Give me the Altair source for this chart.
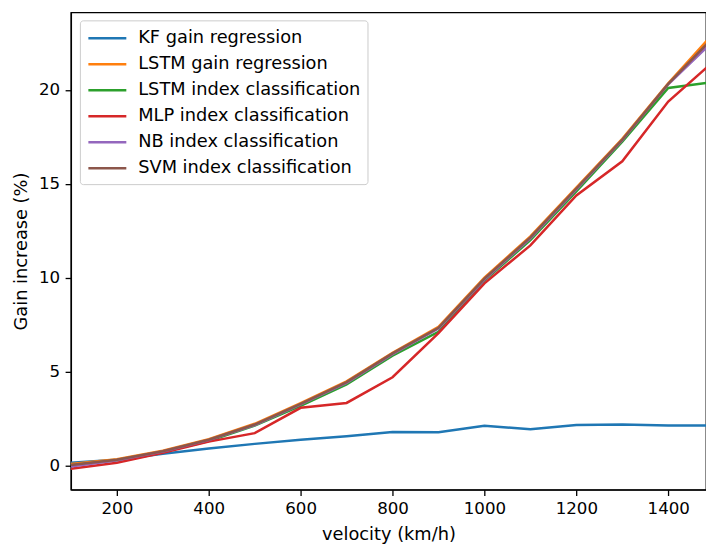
import altair as alt
import pandas as pd

velocity = [100, 200, 300, 400, 500, 600, 700, 800, 900, 1000, 1100, 1200, 1300, 1400, 1500]
kf_gain = [0.15, 0.30, 0.62, 0.90, 1.15, 1.37, 1.55, 1.78, 1.77, 2.12, 1.93, 2.15, 2.18, 2.13, 2.13]
lstm_gain = [0.08, 0.33, 0.78, 1.40, 2.22, 3.32, 4.48, 6.00, 7.38, 10.00, 12.20, 14.80, 17.40, 20.35, 23.05]
lstm_index = [0.00, 0.28, 0.72, 1.30, 2.12, 3.18, 4.32, 5.85, 7.12, 9.85, 12.00, 14.60, 17.25, 20.10, 20.43]
mlp_index = [-0.18, 0.15, 0.67, 1.27, 1.72, 3.07, 3.33, 4.70, 7.05, 9.70, 11.72, 14.38, 16.20, 19.38, 21.55]
nb_index = [-0.05, 0.28, 0.74, 1.35, 2.15, 3.25, 4.40, 5.93, 7.30, 9.90, 12.10, 14.70, 17.32, 20.30, 22.65]
svm_index = [0.02, 0.30, 0.76, 1.37, 2.18, 3.28, 4.44, 5.97, 7.33, 9.95, 12.15, 14.75, 17.35, 20.32, 22.85]

series_names = ["KF gain regression", "LSTM gain regression", "LSTM index classification",
                "MLP index classification", "NB index classification", "SVM index classification"]
series_values = [kf_gain, lstm_gain, lstm_index, mlp_index, nb_index, svm_index]
colors = ["#1f77b4", "#ff7f0e", "#2ca02c", "#d62728", "#9467bd", "#8c564b"]
x_ticks = [200, 400, 600, 800, 1000, 1200, 1400]
y_ticks = [0, 5, 10, 15, 20]

rows = []
for i, (name, vals) in enumerate(zip(series_names, series_values)):
    for v, g in zip(velocity, vals):
        rows.append({"velocity": v, "gain": g, "series": name, "order": i})
df = pd.DataFrame(rows)

FONT = "DejaVu Sans"
FS = 16.7
FS_TEXT = 17.8

chart = alt.Chart(df).mark_line(strokeWidth=2.5, clip=True).encode(
    x=alt.X("velocity:Q",
            scale=alt.Scale(domain=[100, 1482.2], nice=False, zero=False),
            axis=alt.Axis(title="velocity (km/h)", values=x_ticks, grid=False, format="d",
                          labelFlush=False, labelOverlap=False)),
    y=alt.Y("gain:Q",
            scale=alt.Scale(domain=[-1.29, 24.13], nice=False, zero=False),
            axis=alt.Axis(title="Gain increase (%)", values=y_ticks, grid=False, format="d",
                          labelFlush=False, labelOverlap=False)),
    color=alt.Color("series:N",
                    scale=alt.Scale(domain=series_names, range=colors),
                    legend=alt.Legend(title=None, orient="none", legendX=9, legendY=8,
                                      symbolType="M-1,0L3,0", symbolSize=361,
                                      symbolStrokeWidth=2.5, labelFontSize=FS_TEXT,
                                      labelFont=FONT, labelColor="black", labelLimit=500,
                                      fillColor="rgba(255,255,255,0.8)",
                                      strokeColor="#cccccc", cornerRadius=3,
                                      padding=7, rowPadding=6, labelOffset=29.4)),
    order=alt.Order("order:Q"),
    detail="series:N",
).properties(
    width=636, height=478,
    padding={"left": 71, "top": 12, "right": 0, "bottom": 56},
    autosize=alt.AutoSizeParams(type="none"),
).configure_view(
    stroke="black", strokeWidth=1.3
).configure_axis(
    labelFont=FONT, titleFont=FONT, labelFontSize=FS, titleFontSize=FS_TEXT,
    labelColor="black", titleColor="black", titleFontWeight="normal",
    domainColor="black", domainWidth=1.3, tickColor="black", tickWidth=1.3,
    tickSize=5.8, labelPadding=5.5
).configure_axisX(
    titlePadding=8
).configure_axisY(
    titlePadding=8
)

chart.save("out.html", embed_options={"renderer": "svg", "actions": False})
